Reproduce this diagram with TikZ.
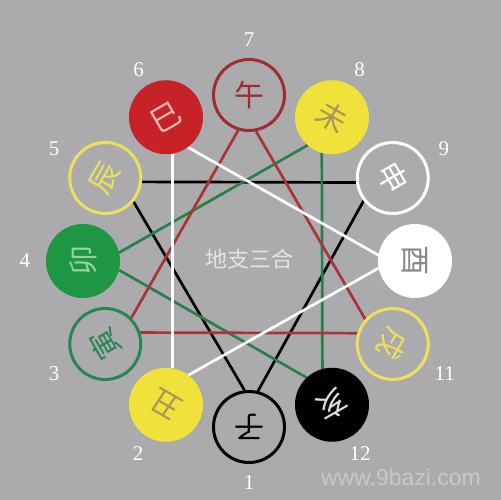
\documentclass[tikz,border=0pt]{standalone}
\usepackage{fontspec}
\newfontfamily\cjk{Noto Sans CJK SC}
\newfontfamily\wmfont{Liberation Sans}
\newfontfamily\numfont{Liberation Serif}
\usetikzlibrary{calc}
\definecolor{bg}{HTML}{ABABAD}
\definecolor{yellowF}{RGB}{240,226,58}
\definecolor{yellowO}{RGB}{234,224,92}
\definecolor{khaki}{RGB}{165,152,92}
\definecolor{redF}{RGB}{198,34,40}
\definecolor{redO}{RGB}{160,44,50}
\definecolor{pinkT}{RGB}{244,186,186}
\definecolor{greenF}{RGB}{30,150,68}
\definecolor{greenO}{RGB}{42,134,80}
\definecolor{lgreen}{RGB}{150,210,160}
\definecolor{lineR}{RGB}{168,52,55}
\definecolor{lineG}{RGB}{40,128,72}
\definecolor{greyT}{RGB}{135,135,138}
\definecolor{lgreyT}{RGB}{222,222,222}
\definecolor{wmcol}{RGB}{200,200,202}
\definecolor{ctext}{RGB}{228,228,230}
\pgfdeclarelayer{back}
\pgfdeclarelayer{lines}
\pgfsetlayers{back,lines,main}
\begin{document}
\begin{tikzpicture}[x=1pt,y=1pt,
  br/.style={circle, minimum size=71pt, inner sep=0pt, line width=3pt},
  ch/.style={font=\cjk\fontsize{30}{30}\selectfont, inner sep=0pt},
  num/.style={font=\numfont\fontsize{21}{21}\selectfont, text=white, inner sep=0pt},
  conn/.style={line width=2.7pt}]
\begin{pgfonlayer}{back}
\fill[bg] (0,0) rectangle (501,500);
\end{pgfonlayer}
\useasboundingbox (0,0) rectangle (501,500);
\coordinate (O) at (249,239);

% circles
\node[br, draw=black, fill=bg] (n1) at ($(O)+(270:166)$) {};
\node[ch, rotate=180, text=black] (t1) at (n1) {子};
\node[br, draw=yellowF, fill=yellowF] (n2) at ($(O)+(240:166)$) {};
\node[ch, rotate=150, text=khaki] (t2) at (n2) {丑};
\node[br, draw=greenO, fill=bg] (n3) at ($(O)+(210:166)$) {};
\node[ch, rotate=120, text=greenO] (t3) at (n3) {寅};
\node[br, draw=greenF, fill=greenF] (n4) at ($(O)+(180:166)$) {};
\node[ch, rotate=90, text=lgreen] (t4) at (n4) {卯};
\node[br, draw=yellowO, fill=bg] (n5) at ($(O)+(150:166)$) {};
\node[ch, rotate=60, text=yellowO] (t5) at (n5) {辰};
\node[br, draw=redF, fill=redF] (n6) at ($(O)+(120:166)$) {};
\node[ch, rotate=30, text=pinkT] (t6) at (n6) {巳};
\node[br, draw=redO, fill=bg] (n7) at ($(O)+(90:166)$) {};
\node[ch, rotate=0, text=redO] (t7) at (n7) {午};
\node[br, draw=yellowF, fill=yellowF] (n8) at ($(O)+(60:166)$) {};
\node[ch, rotate=-30, text=khaki] (t8) at (n8) {未};
\node[br, draw=white, fill=bg] (n9) at ($(O)+(30:166)$) {};
\node[ch, rotate=-60, text=white] (t9) at (n9) {申};
\node[br, draw=white, fill=white] (n10) at ($(O)+(0:166)$) {};
\node[ch, rotate=-90, text=greyT] (t10) at (n10) {酉};
\node[br, draw=yellowO, fill=bg] (n11) at ($(O)+(-30:166)$) {};
\node[ch, rotate=-120, text=yellowO] (t11) at (n11) {戌};
\node[br, draw=black, fill=black] (n12) at ($(O)+(-60:166)$) {};
\node[ch, rotate=-150, text=lgreyT] (t12) at (n12) {亥};

% numbers
\node[num] (l1) at ($(O)+(270:222)$) {1};
\node[num] (l2) at ($(O)+(240:222)$) {2};
\node[num] (l3) at ($(O)+(210:225)$) {3};
\node[num] (l4) at ($(O)+(180:224)$) {4};
\node[num] (l5) at ($(O)+(150:225)$) {5};
\node[num] (l6) at ($(O)+(120:221)$) {6};
\node[num] (l7) at ($(O)+(90:221)$) {7};
\node[num] (l8) at ($(O)+(60:221)$) {8};
\node[num] (l9) at ($(O)+(30:225)$) {9};
\node[num] (l11) at ($(O)+(-30:226)$) {11};
\node[num] (l12) at ($(O)+(-60:222)$) {12};

% center text
\node[font=\cjk\fontsize{22}{22}\selectfont, text=ctext, inner sep=0pt] (ct) at (249,241) {地支三合};

% watermark
\node[font=\wmfont\fontsize{23}{23}\selectfont, text=wmcol, inner sep=0pt] (wm) at (401,23) {www.9bazi.com};

% connectors
\begin{pgfonlayer}{lines}
% water: shen-zi-chen (black)
\draw[conn, black] (n5.-6) -- (n9.187);
\draw[conn, black] (n5.-40) -- (n1.97);
\draw[conn, black] (n9.218) -- (n1.76);
% wood: hai-mao-wei (green)
\draw[conn, lineG] (n4.13) -- (n8.229);
\draw[conn, lineG] (n4.-14) -- (n12.133);
\draw[conn, lineG] (n8.254) -- (n12.105);
% fire: yin-wu-xu (red)
\draw[conn, lineR] (n3.45) -- (n7.253);
\draw[conn, lineR] (n3.18) -- (n11.163);
\draw[conn, lineR] (n7.281) -- (n11.138);
% metal: si-you-chou (white)
\draw[conn, white] (n6.-80) -- (n2.80);
\draw[conn, white] (n6.-54) -- (n10.171);
\draw[conn, white] (n2.53) -- (n10.191);
\end{pgfonlayer}
\end{tikzpicture}
\end{document}
